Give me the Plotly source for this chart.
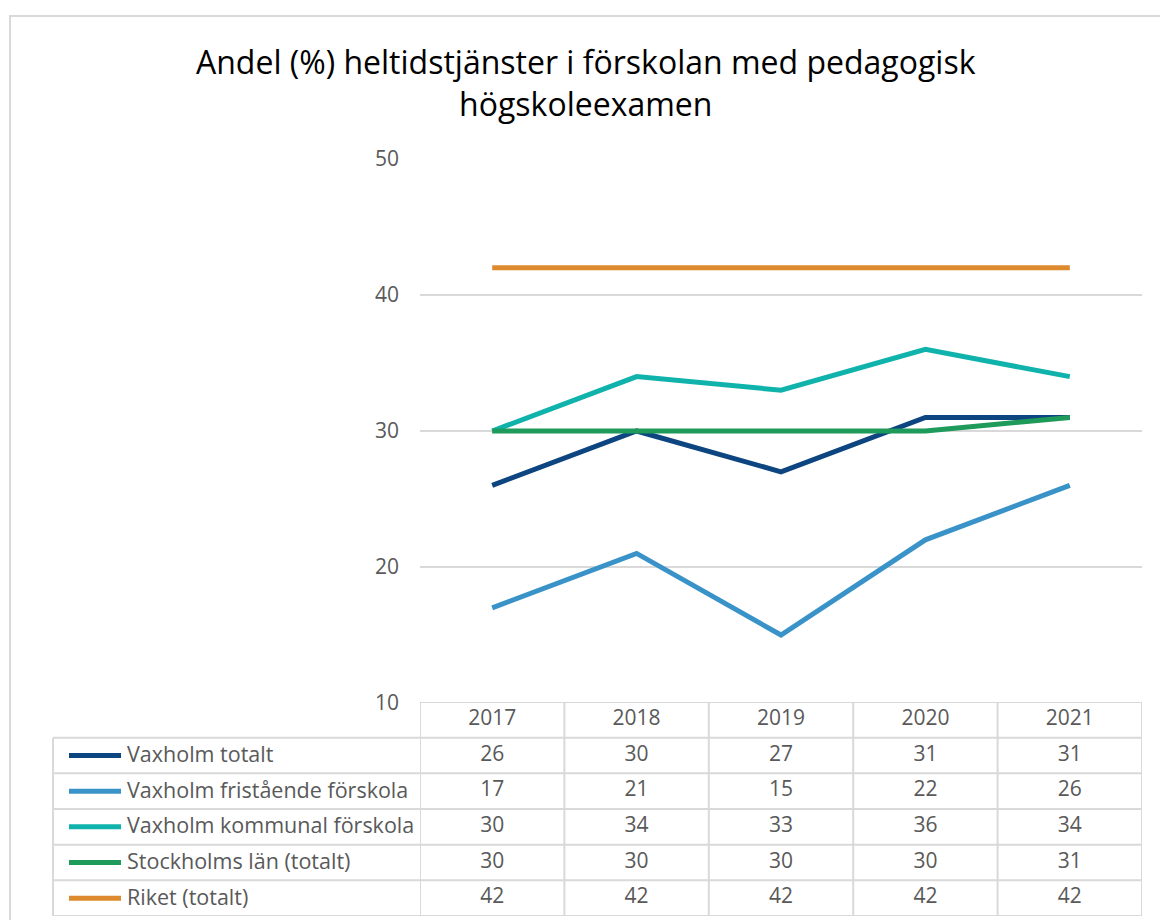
import plotly.graph_objects as go

W, H = 1160, 920

years = ["2017", "2018", "2019", "2020", "2021"]
series_names = [
    "Vaxholm totalt",
    "Vaxholm fristående förskola",
    "Vaxholm kommunal förskola",
    "Stockholms län (totalt)",
    "Riket (totalt)",
]
vaxholm_totalt = [26, 30, 27, 31, 31]
vaxholm_fristaende = [17, 21, 15, 22, 26]
vaxholm_kommunal = [30, 34, 33, 36, 34]
stockholms_lan = [30, 30, 30, 30, 31]
riket = [42, 42, 42, 42, 42]
series_values = [vaxholm_totalt, vaxholm_fristaende, vaxholm_kommunal, stockholms_lan, riket]
colors = ["#0c4580", "#3a93c8", "#10b3ac", "#1e9a5a", "#dc8a2d"]
y_ticks = [10, 20, 30, 40, 50]
title_text = "Andel (%) heltidstjänster i förskolan med pedagogisk<br>högskoleexamen"

FONT = "Open Sans"
GRID = "#d9d9d9"
TXT = "#595959"
TSIZE = 21
LSIZE = 21.5

def px(x):
    return x / W

def py(y):
    return 1 - y / H

x_idx = list(range(len(years)))

fig = go.Figure()

order = [1, 0, 2, 3, 4]
for i in order:
    fig.add_trace(go.Scatter(
        x=x_idx, y=series_values[i], mode="lines", name=series_names[i],
        line=dict(color=colors[i], width=5), showlegend=False,
        xaxis="x", yaxis="y", hoverinfo="x+y+name",
    ))

fig.add_trace(go.Scatter(
    x=x_idx, y=[0] * len(years), mode="text", text=years,
    textfont=dict(family=FONT, size=TSIZE, color=TXT),
    xaxis="x", yaxis="y2", showlegend=False, hoverinfo="skip",
))
for r, vals in enumerate(series_values, start=1):
    fig.add_trace(go.Scatter(
        x=x_idx, y=[r] * len(vals), mode="text", text=[str(v) for v in vals],
        textfont=dict(family=FONT, size=TSIZE, color=TXT),
        xaxis="x", yaxis="y2", showlegend=False, hoverinfo="skip",
    ))

shapes = []
n = len(years)
nrows = len(series_names)
line_style = dict(color=GRID, width=2)
left_px = 53
shapes.append(dict(type="line", xref="x", yref="y2", x0=-0.5, x1=n - 0.5, y0=-0.5, y1=-0.5, line=line_style))
for k in range(nrows + 1):
    yy = k + 0.5
    shapes.append(dict(type="line", xref="paper", yref="y2", x0=px(left_px), x1=px(1142), y0=yy, y1=yy, line=line_style))
shapes.append(dict(type="line", xref="paper", yref="y2", x0=px(left_px), x1=px(left_px), y0=0.5, y1=nrows + 0.5, line=line_style))
for c in range(n + 1):
    xx = c - 0.5
    shapes.append(dict(type="line", xref="x", yref="y2", x0=xx, x1=xx, y0=-0.5, y1=nrows + 0.5, line=line_style))
annotations = []
for r in range(nrows):
    shapes.append(dict(type="line", xref="paper", yref="y2", x0=px(69), x1=px(121), y0=r + 1, y1=r + 1,
                       line=dict(color=colors[r], width=5)))
    annotations.append(dict(xref="paper", yref="y2", x=px(125), y=r + 1, text=series_names[r],
                            showarrow=False, xanchor="left", yanchor="middle", yshift=2,
                            font=dict(family=FONT, size=LSIZE, color=TXT)))
shapes.append(dict(type="rect", xref="paper", yref="paper", x0=px(10), x1=px(1175), y0=py(16), y1=py(935),
                   line=dict(color="#d9d9d9", width=2), layer="below"))

annotations.append(dict(xref="paper", yref="paper", x=px(586), y=py(82), text=title_text, showarrow=False,
                        xanchor="center", yanchor="middle",
                        font=dict(family=FONT, size=32, color="#000000")))

fig.update_layout(
    template="none",
    width=W, height=H,
    margin=dict(l=0, r=0, t=0, b=0, autoexpand=False),
    paper_bgcolor="white", plot_bgcolor="white",
    shapes=shapes, annotations=annotations,
    xaxis=dict(domain=[px(420), px(1142)], range=[-0.5, n - 0.5], showgrid=False, zeroline=False,
               showticklabels=False, showline=False, fixedrange=True, automargin=False),
    yaxis=dict(domain=[py(703), py(159)], range=[10, 50], tickvals=y_ticks, showgrid=True, gridcolor=GRID,
               gridwidth=2, zeroline=False, showline=False, ticks="", ticklabelstandoff=20, automargin=False,
               tickfont=dict(family=FONT, size=TSIZE, color=TXT)),
    yaxis2=dict(domain=[py(916), py(702)], range=[nrows + 0.5, -0.5], showgrid=False, zeroline=False,
                showticklabels=False, showline=False, automargin=False),
)

fig.write_html("out.html", config={"displayModeBar": False},
               post_script="document.body.style.margin='0';document.body.style.overflow='hidden';")
